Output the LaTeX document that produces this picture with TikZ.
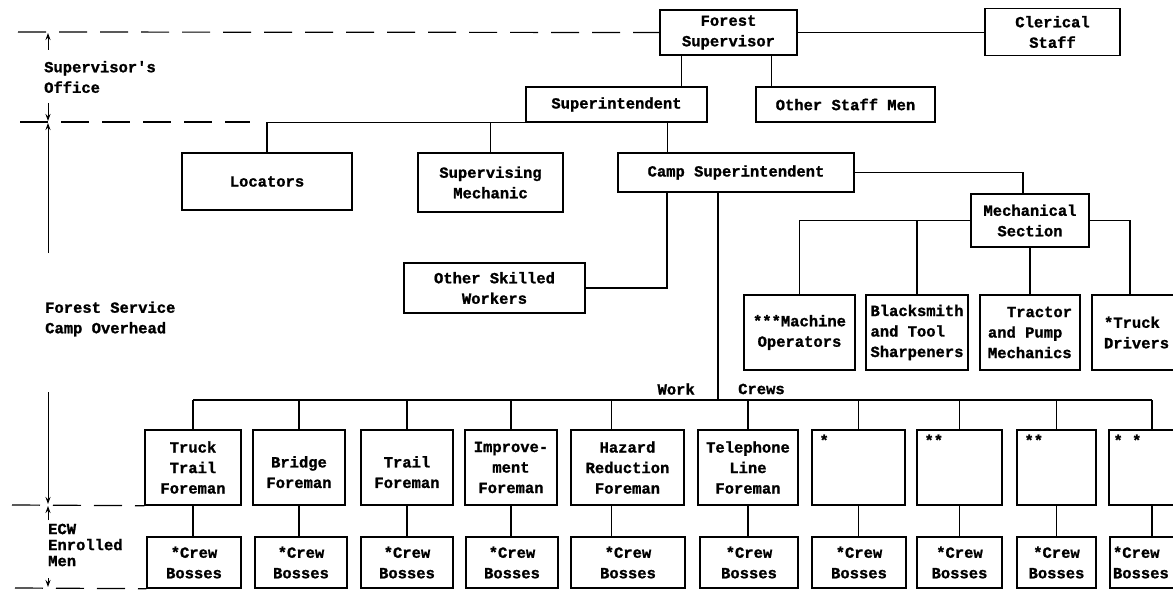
\documentclass[tikz,border=0pt]{standalone}
\usepackage{fontspec}
\setmonofont{Liberation Mono}[BoldFeatures={FakeBold=1.2}]
\usepackage{tikz}
\usetikzlibrary{arrows.meta, positioning}
\tikzstyle{orgbox} = [rectangle, draw, line width=1.4pt, align=center, inner sep=2pt, font=\ttfamily\bfseries\fontsize{15.5}{20.5}\selectfont]
\tikzstyle{foreman} = [orgbox, minimum height=75]
\tikzstyle{boss} = [orgbox, minimum height=51]
\tikzstyle{starnote} = [anchor=north west, inner xsep=8pt, inner ysep=5pt, font=\ttfamily\bfseries\fontsize{15.5}{20.5}\selectfont]
\tikzstyle{notetext} = [inner sep=0pt, font=\ttfamily\bfseries\fontsize{15.5}{20.5}\selectfont]
\tikzstyle{sidetext} = [notetext, anchor=west, align=left]
\tikzstyle{conn} = [line width=1.4pt]
\tikzstyle{levelline} = [line width=1.2pt, dash pattern=on 28pt off 13pt]
\tikzstyle{dimarrow} = [line width=1pt, -{Stealth[length=7pt,width=5pt]}]

\begin{document}
\begin{tikzpicture}[x=1pt, y=-1pt]
    \useasboundingbox (0,0) rectangle (1173,591);
    \clip (0,0) rectangle (1173,591);

    % Supervisor's office
    \node[orgbox, minimum width=137, minimum height=45] (fsup) at (728.5,32.5) {Forest\\Supervisor};
    \node[orgbox, minimum width=135, minimum height=47] (clerical) at (1052.5,32) {Clerical\\Staff};
    \node[orgbox, minimum width=181, minimum height=35] (supt) at (616.5,104.5) {Superintendent};
    \node[orgbox, minimum width=179, minimum height=35] (staff) at (845.5,104.5) {Other Staff Men};

    % Camp overhead
    \node[orgbox, minimum width=170, minimum height=57] (locators) at (267,181.5) {Locators};
    \node[orgbox, minimum width=145, minimum height=59] (supmech) at (490.5,182.5) {Supervising\\Mechanic};
    \node[orgbox, minimum width=236, minimum height=39] (camp) at (736,172.5) {Camp Superintendent};
    \node[orgbox, minimum width=181, minimum height=50] (skilled) at (494.5,288) {Other Skilled\\Workers};
    \node[orgbox, minimum width=118, minimum height=53] (mechsec) at (1030,220.5) {Mechanical\\Section};
    \node[foreman, minimum width=111] (machop) at (799.5,332.5) {***Machine\\Operators};
    \node[foreman, minimum width=102, align=left] (smith) at (917,332.5) {Blacksmith\\and Tool\\Sharpeners};
    \node[foreman, minimum width=100, align=left] (tractor) at (1030,332.5) {\hspace*{19pt}Tractor\\and Pump\\Mechanics};
    \node[foreman, text width=70, inner xsep=12pt, align=left] (truck) at (1139,332.5) {*Truck\\Drivers};

    % Foremen
    \node[foreman, minimum width=96] (ttf) at (193,467.5) {Truck\\Trail\\Foreman};
    \node[foreman, minimum width=92] (bridge) at (299,467.5) {\mbox{}\\Bridge\\Foreman};
    \node[foreman, minimum width=92] (trail) at (407,467.5) {\mbox{}\\Trail\\Foreman};
    \node[foreman, minimum width=92] (improve) at (511,467.5) {Improve-\\ment\\Foreman};
    \node[foreman, minimum width=113] (hazard) at (627.5,467.5) {Hazard\\Reduction\\Foreman};
    \node[foreman, minimum width=100] (phone) at (748,467.5) {Telephone\\Line\\Foreman};
    \node[foreman, minimum width=93, label={[starnote]north west:*}] (fore7) at (858.5,467.5) {};
    \node[foreman, minimum width=85, label={[starnote]north west:**}] (fore8) at (959.5,467.5) {};
    \node[foreman, minimum width=79, label={[starnote]north west:**}] (fore9) at (1056.5,467.5) {};
    \node[foreman, minimum width=86, label={[starnote, inner xsep=5pt]north west:* *}] (fore10) at (1152,467.5) {};

    % Enrolled men
    \node[boss, minimum width=94] (boss1) at (194,562.5) {*Crew\\Bosses};
    \node[boss, minimum width=92] (boss2) at (301,562.5) {*Crew\\Bosses};
    \node[boss, minimum width=92] (boss3) at (407,562.5) {*Crew\\Bosses};
    \node[boss, minimum width=92] (boss4) at (512,562.5) {*Crew\\Bosses};
    \node[boss, minimum width=114] (boss5) at (628,562.5) {*Crew\\Bosses};
    \node[boss, minimum width=98] (boss6) at (749,562.5) {*Crew\\Bosses};
    \node[boss, minimum width=94] (boss7) at (859,562.5) {*Crew\\Bosses};
    \node[boss, minimum width=85] (boss8) at (959.5,562.5) {*Crew\\Bosses};
    \node[boss, minimum width=79] (boss9) at (1056.5,562.5) {*Crew\\Bosses};
    \node[boss, text width=60, inner xsep=3pt, align=left] (boss10) at (1143,562.5) {*Crew\\Bosses};

    % Lines of authority
    \draw[conn] (fsup.east) -- (fsup.east -| clerical.west);
    \draw[conn] ([xshift=-26]supt.north east) -- ([xshift=-26]supt.north east |- fsup.south);
    \draw[conn] ([xshift=16]staff.north west) -- ([xshift=16]staff.north west |- fsup.south);
    \draw[conn] (supt.south west) -| (locators.north);
    \draw[conn] (supt.south west) -| (supmech.north);
    \draw[conn] ([xshift=-40]supt.south east) -- ([xshift=-40]supt.south east |- camp.north);
    \draw[conn] ([xshift=-69]camp.south) |- (skilled.east);
    \draw[conn] (camp.east) -| ([xshift=-7]mechsec.north);
    \draw[conn] (mechsec.west) -| (machop.north);
    \draw[conn] (mechsec.west) -| (smith.north);
    \draw[conn] (mechsec.south) -- (mechsec.south |- tractor.north);
    \draw[conn] (mechsec.east) -| ([xshift=-9]truck.north);

    % Work crews
    \coordinate (bus) at (718,400);
    \draw[conn] ([xshift=-18]camp.south) -- (bus);
    \draw[conn] (ttf.north |- bus) -- (fore10.north |- bus);
    \foreach \f in {ttf, bridge, trail, improve, phone, fore7, fore8, fore9, fore10}
        \draw[conn] (\f.north) -- (\f.north |- bus);
    \draw[conn] ([xshift=-16]hazard.north) -- ([xshift=-16]hazard.north |- bus);
    \foreach \f/\b in {ttf/boss1, bridge/boss2, trail/boss3, improve/boss4, phone/boss6, fore7/boss7, fore8/boss8, fore9/boss9}
        \draw[conn] (\f.south) -- (\f.south |- \b.north);
    \draw[conn] (fore10.south) -- (fore10.south |- boss10.north);
    \draw[conn] ([xshift=-16]hazard.south) -- ([xshift=-16]hazard.south |- boss5.north);
    \node[notetext, anchor=east] (worklbl) at (695,389) {Work};
    \node[notetext, anchor=west] (crewslbl) at (738,389) {Crews};

    % Levels at the left
    \draw[levelline] (18,32) -- (fsup.west);
    \draw[levelline] (20,122) -- (250,122);
    \draw[levelline] (12,505) -- (ttf.south west);
    \draw[levelline] (15,588) -- (boss1.south west);
    \node[sidetext] (offlbl) at (44,77) {Supervisor's\\Office};
    \node[sidetext] (camplbl) at (45,319) {Forest Service\\Camp Overhead};
    \node[sidetext, font=\ttfamily\bfseries\fontsize{15.5}{16}\selectfont] (ecwlbl) at (48,545) {ECW\\Enrolled\\Men};
    \draw[dimarrow] (48,50) -- (48,33);
    \draw[dimarrow] (48,103) -- (48,121);
    \draw[dimarrow] (48,253) -- (48,123);
    \draw[dimarrow] (48,392) -- (48,504);
    \draw[dimarrow] (48,520) -- (48,506);
    \draw[dimarrow] (48,578) -- (48,587);
\end{tikzpicture}
\end{document}
